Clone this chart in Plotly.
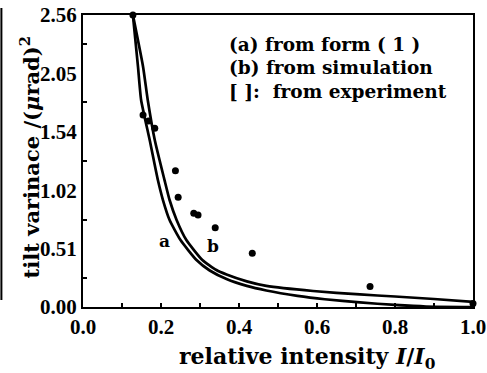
import plotly.graph_objects as go

# ---- data ----
curve_a_x = [0.128, 0.141, 0.149, 0.171, 0.192, 0.205, 0.222, 0.250, 0.291, 0.325, 0.368, 0.42, 0.47, 0.55, 0.62, 0.71, 0.80, 0.88, 1.0]
curve_a_y = [2.56, 2.107, 1.815, 1.464, 1.113, 0.938, 0.763, 0.587, 0.412, 0.320, 0.245, 0.185, 0.145, 0.098, 0.068, 0.040, 0.018, 0.004, 0.0]

curve_b_x = [0.128, 0.154, 0.166, 0.184, 0.209, 0.222, 0.240, 0.265, 0.306, 0.342, 0.368, 0.42, 0.47, 0.59, 0.71, 0.80, 0.90, 1.0]
curve_b_y = [2.56, 2.107, 1.815, 1.464, 1.113, 0.938, 0.763, 0.587, 0.412, 0.324, 0.285, 0.225, 0.185, 0.140, 0.110, 0.092, 0.070, 0.045]

exp_x = [0.128, 0.154, 0.168, 0.184, 0.237, 0.244, 0.284, 0.295, 0.339, 0.434, 0.736, 1.0]
exp_y = [2.56, 1.683, 1.63, 1.567, 1.195, 0.962, 0.821, 0.807, 0.695, 0.471, 0.18, 0.03]

x_ticks = [0.0, 0.2, 0.4, 0.6, 0.8, 1.0]
x_ticktext = ["0.0", "0.2", "0.4", "0.6", "0.8", "1.0"]
x_minor = [0.1, 0.3, 0.5, 0.7, 0.9]
y_ticks = [0.0, 0.51, 1.02, 1.54, 2.05, 2.56]
y_ticktext = ["0.00", "0.51", "1.02", "1.54", "2.05", "2.56"]
y_minor = [0.255, 0.765, 1.28, 1.795, 2.305]

legend_lines = ["(a) from form ( 1 )", "(b) from simulation", "[ ]:  from experiment"]
curve_labels = ["a", "b"]
curve_label_x = [0.209, 0.333]
curve_label_y = [0.564, 0.523]

SERIF = "Liberation Serif"
WIDE = "DejaVu Serif"

fig = go.Figure()
for cx, cy in [(curve_a_x, curve_a_y), (curve_b_x, curve_b_y)]:
    fig.add_trace(go.Scatter(x=cx, y=cy, mode="lines",
                             line=dict(color="black", width=2.7, shape="spline", smoothing=0.5),
                             showlegend=False, cliponaxis=False))
fig.add_trace(go.Scatter(x=exp_x, y=exp_y, mode="markers",
                         marker=dict(color="black", size=7),
                         showlegend=False, cliponaxis=False))
fig.add_trace(go.Scatter(x=curve_label_x, y=curve_label_y, mode="text", text=curve_labels,
                         textfont=dict(family=WIDE, size=17, color="black", weight="bold"),
                         showlegend=False))

for i, t in enumerate(legend_lines):
    fig.add_annotation(text=t, xref="paper", yref="paper", x=(227 - 83.5) / 389.5,
                       y=(307 - (45 + 23 * i)) / 292, xanchor="left", yanchor="middle",
                       showarrow=False,
                       font=dict(family=WIDE, size=18.5, color="black", weight="bold"))

fig.add_annotation(text="tilt varinace /(<i>μ</i>rad)<sup>2</sup>", xref="paper", yref="paper",
                   x=(31 - 83.5) / 389.5, y=(307 - 157) / 292, textangle=-90,
                   xanchor="center", yanchor="middle", showarrow=False,
                   font=dict(family=WIDE, size=21, color="black", weight="bold"))
fig.add_annotation(text="relative intensity <i>I</i>/<i>I</i><sub>0</sub>", xref="paper", yref="paper",
                   x=(307 - 83.5) / 389.5, y=(307 - 358) / 292,
                   xanchor="center", yanchor="middle", showarrow=False,
                   font=dict(family=WIDE, size=22, color="black", weight="bold"))

# scan frame edge at far left
fig.add_shape(type="line", xref="paper", yref="paper",
              x0=(2 - 83.5) / 389.5, x1=(2 - 83.5) / 389.5,
              y0=(307 - 8) / 292, y1=(307 - 300) / 292,
              line=dict(color="black", width=2))

fig.update_xaxes(range=[0, 1], tickvals=x_ticks, ticktext=x_ticktext, automargin=False,
                 ticks="inside", ticklen=4, tickwidth=1.5, tickcolor="black",
                 minor=dict(tickvals=x_minor, ticks="inside", ticklen=4, tickwidth=1.5, tickcolor="black"),
                 showline=True, mirror=True, linewidth=2, linecolor="black",
                 showgrid=False, zeroline=False,
                 tickfont=dict(family=SERIF, size=21, color="black", weight="bold"))
fig.update_yaxes(range=[0, 2.56], tickvals=y_ticks, ticktext=y_ticktext, automargin=False,
                 ticks="",
                 minor=dict(tickvals=y_minor, ticks="inside", ticklen=4, tickwidth=1.5, tickcolor="black"),
                 showline=True, mirror=True, linewidth=2, linecolor="black",
                 showgrid=False, zeroline=False, ticklabelstandoff=0,
                 tickfont=dict(family=SERIF, size=21, color="black", weight="bold"))

fig.update_layout(width=487, height=373, margin=dict(l=83, r=14, t=15, b=66, autoexpand=False),
                  plot_bgcolor="white", paper_bgcolor="white")

fig.write_html("out.html", config={"displayModeBar": False},
               post_script="document.body.style.margin='0px';")
